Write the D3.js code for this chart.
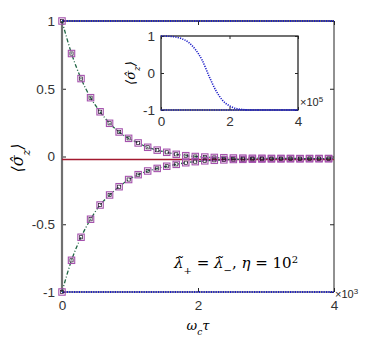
<!DOCTYPE html>
<html>
<head>
<meta charset="utf-8">
<script src="https://cdn.jsdelivr.net/npm/d3@7"></script>
<style>
  body { margin: 0; background: #fff; }
  svg text { font-family: "Liberation Sans", Arial, sans-serif; }
  .math { font-family: "DejaVu Serif", "Liberation Serif", serif; font-style: italic; }
</style>
</head>
<body>
<div id="chart"></div>
<script>
// main panel: time samples of the markers (x10^3)
const tSamples = [0, 0.14, 0.28, 0.42, 0.56, 0.70, 0.84, 0.98, 1.12, 1.26, 1.40, 1.54, 1.68, 1.82,
    1.96, 2.10, 2.24, 2.38, 2.52, 2.66, 2.80, 2.94, 3.08, 3.22, 3.36, 3.50, 3.64, 3.78, 3.92];
const upperBranch = [1, 0.76, 0.575, 0.434, 0.33, 0.245, 0.181, 0.134, 0.100, 0.068, 0.047, 0.031,
    0.016, 0.006, 0.0, -0.004, -0.007, -0.009, -0.011, -0.012, -0.013, -0.013, -0.014, -0.014,
    -0.014, -0.015, -0.015, -0.015, -0.015];
const lowerBranch = [-1, -0.766, -0.596, -0.463, -0.358, -0.284, -0.223, -0.170, -0.134, -0.107,
    -0.088, -0.072, -0.058, -0.046, -0.038, -0.032, -0.028, -0.025, -0.022, -0.021, -0.020, -0.019,
    -0.018, -0.018, -0.017, -0.017, -0.016, -0.016, -0.016];
const tEnd = 4;          // where the fitted lines stop
const steadyLevel = -0.022; // red reference line
const flatTop = 1;
const flatBottom = -1;

// inset: long time evolution (x10^5)
const insetT = [0, 0.2, 0.4, 0.6, 0.8, 1.0, 1.2, 1.4, 1.6, 1.8, 2.0, 2.2, 2.4, 2.6, 2.8, 3.0, 4.0];
const insetV = [1, 0.995, 0.975, 0.93, 0.83, 0.64, 0.35, -0.08, -0.47, -0.74, -0.89, -0.96, -0.99,
    -1, -1, -1, -1];

const xTicks = [0, 2, 4];
const yTicks = [-1, -0.5, 0, 0.5, 1];
const insetYTicks = [-1, 0, 1];

const W = 374, H = 343;
const plot = { left: 62, right: 334, top: 21, bottom: 292 };
const inset = { left: 161, right: 298, top: 36, bottom: 110 };

const svg = d3.select('#chart').append('svg')
    .attr('width', W)
    .attr('height', H);

const x = d3.scaleLinear().domain([0, 4]).range([plot.left, plot.right]);
const y = d3.scaleLinear().domain([-1, 1]).range([plot.bottom, plot.top]);

// frame + inward ticks
function styleAxis(g, color) {
    g.select('.domain').remove();
    g.selectAll('.tick line').attr('stroke', color).attr('stroke-width', 1);
    g.selectAll('.tick text').attr('fill', '#333').style('font-size', '13.5px');
}

svg.append('g')
    .attr('transform', `translate(0,${plot.bottom})`)
    .call(d3.axisBottom(x).tickValues(xTicks).tickSize(-4).tickPadding(8).tickFormat(d3.format('d')))
    .call(g => styleAxis(g, '#262626'));
svg.append('g')
    .attr('transform', `translate(0,${plot.top})`)
    .call(d3.axisTop(x).tickValues(xTicks).tickSize(-4).tickFormat(''))
    .call(g => styleAxis(g, '#262626'));
svg.append('g')
    .attr('transform', `translate(${plot.left},0)`)
    .call(d3.axisLeft(y).tickValues(yTicks).tickSize(-4).tickPadding(7).tickFormat(d => d))
    .call(g => styleAxis(g, '#262626'));
svg.append('g')
    .attr('transform', `translate(${plot.right},0)`)
    .call(d3.axisRight(y).tickValues(yTicks).tickSize(-4).tickFormat(''))
    .call(g => styleAxis(g, '#262626'));

// axis box lines
svg.append('line').attr('x1', plot.left).attr('x2', plot.right).attr('y1', plot.top).attr('y2', plot.top)
    .attr('stroke', '#333').attr('stroke-width', 1.5);
svg.append('line').attr('x1', plot.right).attr('x2', plot.right).attr('y1', plot.top).attr('y2', plot.bottom)
    .attr('stroke', '#222').attr('stroke-width', 1);
svg.append('line').attr('x1', plot.left).attr('x2', plot.right).attr('y1', plot.bottom).attr('y2', plot.bottom)
    .attr('stroke', '#333').attr('stroke-width', 1);
svg.append('line').attr('x1', plot.left).attr('x2', plot.left).attr('y1', plot.top).attr('y2', plot.bottom)
    .attr('stroke', '#707070').attr('stroke-width', 2.2);

// red steady-state line
svg.append('line')
    .attr('x1', x(0)).attr('x2', x(tEnd))
    .attr('y1', y(steadyLevel)).attr('y2', y(steadyLevel))
    .attr('stroke', '#a3192f').attr('stroke-width', 1.3);

// blue dotted flat lines
[flatTop, flatBottom].forEach(v => {
    svg.append('line')
        .attr('x1', x(0)).attr('x2', x(tEnd))
        .attr('y1', y(v)).attr('y2', y(v))
        .attr('stroke', '#1f1fc8').attr('stroke-width', 1.8)
        .attr('stroke-dasharray', '1.2 1.2');
});

// dash-dot fitted curves
const line = d3.line().x(d => x(d[0])).y(d => y(d[1])).curve(d3.curveMonotoneX);
[upperBranch, lowerBranch].forEach(vals => {
    const pts = tSamples.map((t, i) => [t, vals[i]]);
    pts.push([tEnd, vals[vals.length - 1]]);
    svg.append('path')
        .datum(pts)
        .attr('d', line)
        .attr('fill', 'none')
        .attr('stroke', '#1f6543')
        .attr('stroke-width', 1.3)
        .attr('stroke-dasharray', '4 2 1 2');
});

// square markers: purple outer, dark inner
[upperBranch, lowerBranch].forEach(vals => {
    const pts = tSamples.map((t, i) => [t, vals[i]]);
    svg.append('g').selectAll('rect')
        .data(pts).enter().append('rect')
        .attr('x', d => x(d[0]) - 3.2).attr('y', d => y(d[1]) - 3.2)
        .attr('width', 6.4).attr('height', 6.4)
        .attr('fill', 'none').attr('stroke', '#a552ad').attr('stroke-width', 1.1);
    svg.append('g').selectAll('rect')
        .data(pts).enter().append('rect')
        .attr('x', d => x(d[0]) - 1.6).attr('y', d => y(d[1]) - 1.6)
        .attr('width', 3.2).attr('height', 3.2)
        .attr('fill', 'none').attr('stroke', '#2a1030').attr('stroke-width', 0.7);
});

// labels
svg.append('text')
    .attr('class', 'math')
    .attr('transform', `translate(23,158) rotate(-90)`)
    .attr('text-anchor', 'middle')
    .style('font-size', '16px')
    .html('⟨σ\u0302<tspan baseline-shift="sub" style="font-size:11px">z</tspan>⟩');

svg.append('text')
    .attr('class', 'math')
    .attr('x', x(2)).attr('y', 330)
    .attr('text-anchor', 'middle')
    .style('font-size', '13px')
    .html('ω<tspan baseline-shift="sub" style="font-size:9px">c</tspan>τ');

svg.append('text')
    .attr('x', plot.right + 1).attr('y', 298)
    .style('font-size', '11px').attr('fill', '#262626')
    .html('×10<tspan baseline-shift="super" style="font-size:8px">3</tspan>');

svg.append('text')
    .attr('class', 'math')
    .attr('x', 174).attr('y', 268)
    .style('font-size', '15px')
    .html('λ\u0303<tspan baseline-shift="sub" style="font-size:10px">+</tspan>'
        + '<tspan style="font-style:normal"> = </tspan>λ\u0303<tspan baseline-shift="sub" style="font-size:10px">−</tspan>'
        + '<tspan style="font-style:normal">, </tspan>η<tspan style="font-style:normal"> = 10</tspan>'
        + '<tspan baseline-shift="super" style="font-size:10px;font-style:normal">2</tspan>');

// ---- inset ----
const xi = d3.scaleLinear().domain([0, 4]).range([inset.left, inset.right]);
const yi = d3.scaleLinear().domain([-1, 1]).range([inset.bottom, inset.top]);

svg.append('rect')
    .attr('x', inset.left).attr('y', inset.top)
    .attr('width', inset.right - inset.left).attr('height', inset.bottom - inset.top)
    .attr('fill', '#fff').attr('stroke', '#262626').attr('stroke-width', 1.3);

svg.append('g')
    .attr('transform', `translate(0,${inset.bottom})`)
    .call(d3.axisBottom(xi).tickValues(xTicks).tickSize(-3).tickPadding(6).tickFormat(d3.format('d')))
    .call(g => styleAxis(g, '#262626'));
svg.append('g')
    .attr('transform', `translate(0,${inset.top})`)
    .call(d3.axisTop(xi).tickValues(xTicks).tickSize(-3).tickFormat(''))
    .call(g => styleAxis(g, '#262626'));
svg.append('g')
    .attr('transform', `translate(${inset.left},0)`)
    .call(d3.axisLeft(yi).tickValues(insetYTicks).tickSize(-3).tickPadding(6).tickFormat(d => d))
    .call(g => styleAxis(g, '#262626'));
svg.append('g')
    .attr('transform', `translate(${inset.right},0)`)
    .call(d3.axisRight(yi).tickValues(insetYTicks).tickSize(-3).tickFormat(''))
    .call(g => styleAxis(g, '#262626'));

svg.append('line')
    .attr('x1', xi(0)).attr('x2', xi(4))
    .attr('y1', yi(flatBottom)).attr('y2', yi(flatBottom))
    .attr('stroke', '#1f1fc8').attr('stroke-width', 1.6)
    .attr('stroke-dasharray', '1.2 1.2');

const insetLine = d3.line().x(d => xi(d[0])).y(d => yi(d[1])).curve(d3.curveMonotoneX);
svg.append('path')
    .datum(insetT.map((t, i) => [t, insetV[i]]))
    .attr('d', insetLine)
    .attr('fill', 'none')
    .attr('stroke', '#1f1fc8').attr('stroke-width', 1.6)
    .attr('stroke-dasharray', '1.2 1.2');

svg.append('text')
    .attr('class', 'math')
    .attr('transform', `translate(135,73) rotate(-90)`)
    .attr('text-anchor', 'middle')
    .style('font-size', '13px')
    .html('⟨σ\u0302<tspan baseline-shift="sub" style="font-size:9px">z</tspan>⟩');

svg.append('text')
    .attr('x', inset.right + 2).attr('y', 106)
    .style('font-size', '11px').attr('fill', '#262626')
    .html('×10<tspan baseline-shift="super" style="font-size:8px">5</tspan>');
</script>
</body>
</html>
